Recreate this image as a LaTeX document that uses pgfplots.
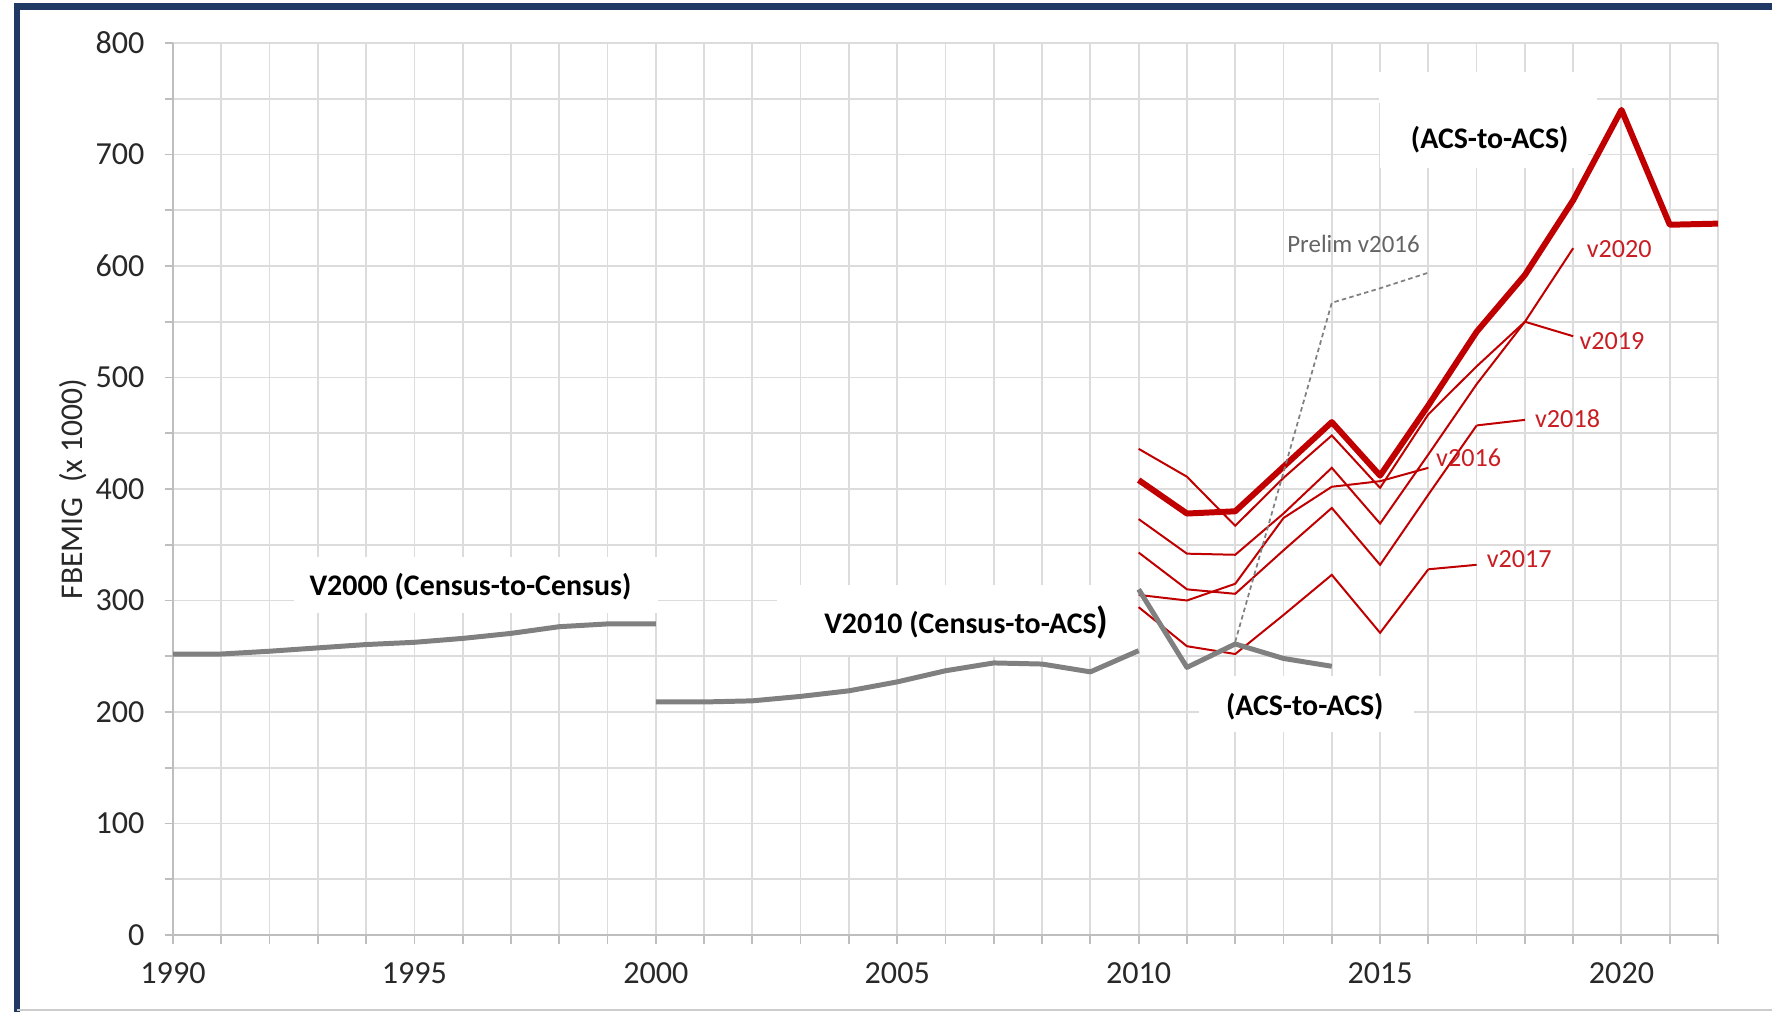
\documentclass[border=0pt]{standalone}
\usepackage{pgfplots}
\pgfplotsset{compat=1.18}
\usepackage{fontspec}
\setmainfont{Carlito}
\definecolor{navy}{RGB}{31,56,100}
\definecolor{gridc}{RGB}{220,220,220}
\definecolor{axisc}{RGB}{190,190,190}
\definecolor{grayl}{RGB}{128,128,128}
\definecolor{redl}{RGB}{192,0,0}
\definecolor{redt}{RGB}{200,30,35}
\definecolor{tickc}{RGB}{40,40,40}
\definecolor{prelimc}{RGB}{100,100,100}
\begin{document}
\begin{tikzpicture}
\path[use as bounding box] (0,0) rectangle (25cm,14.2777cm);
\begin{axis}[
  at={(2.4408cm,1.0863cm)}, anchor=south west,
  scale only axis, width=21.798cm, height=12.585cm,
  xmin=1990, xmax=2022, ymin=0, ymax=800,
  xtick={1990,1995,...,2020}, minor xtick={1990,...,2022},
  ytick={0,100,...,800}, minor ytick={0,50,...,800},
  grid=both,
  major grid style={draw=gridc, line width=0.7pt},
  minor grid style={draw=gridc, line width=0.7pt},
  axis x line*=bottom, axis y line*=left,
  axis line style={draw=axisc, line width=0.8pt},
  tick align=outside, major tick length=0.12cm, minor tick length=0.12cm,
  tick style={draw=axisc, line width=0.7pt},
  ticklabel style={font=\fontsize{12.9}{15}\selectfont, text=tickc},
  xticklabel style={yshift=-0.15cm},
  yticklabel style={xshift=-0.16cm},
  /pgf/number format/1000 sep={},
  /pgf/number format/assume math mode=true,
  ylabel={FBEMIG\ \ (x 1000)},
  ylabel style={at={(axis description cs:-0.0644,0.5)}, anchor=center,
    font=\fontsize{12.7}{15}\selectfont, text=tickc},
  clip=false,
]
% white label boxes
\fill[white] (axis cs:1992.5,289) rectangle (axis cs:2000.05,339);
\fill[white] (axis cs:2002.5,251.5) rectangle (axis cs:2009.96,313.5);
\fill[white] (axis cs:2011.25,182) rectangle (axis cs:2015.7,232);
\fill[white] (axis cs:2015.0,688) rectangle (axis cs:2019.3,746);
\fill[white] (axis cs:2014.97,746) rectangle (axis cs:2019.5,774);

% thin red vintages
\addplot[redl, line width=0.8pt] coordinates {(2010,305)(2011,300)(2012,315)(2013,374)(2014,402)(2015,407)};
\addplot[redl, line width=0.8pt] coordinates {(2010,294)(2011,259)(2012,252)(2013,287)(2014,323)(2015,271)(2016,328)};
\addplot[redl, line width=0.8pt] coordinates {(2010,343)(2011,310)(2012,306)(2013,345)(2014,383)(2015,332)(2016,395)(2017,457)};
\addplot[redl, line width=0.8pt] coordinates {(2010,436)(2011,411)(2012,367)(2013,410)(2014,448)(2015,401)(2016,467)(2017,510)(2018,550)};
\addplot[redl, line width=0.8pt] coordinates {(2010,373)(2011,342)(2012,341)(2013,378)(2014,419)(2015,369)(2016,431)(2017,494)(2018,550)(2019,616)};
% thick red
\addplot[redl, line width=2.4pt, line join=round] coordinates {(2010,408)(2011,378)(2012,380)(2013,420)(2014,460)(2015,412)(2016,475)(2017,541)(2018,592)(2019,659)(2020,740)(2021,637)(2022,638)};
% gray series
\addplot[grayl, line width=2pt, line join=round] coordinates {(1990,252)(1991,252)(1992,254.5)(1993,257.5)(1994,260.5)(1995,262.5)(1996,266)(1997,270.5)(1998,276.5)(1999,279)(2000,279)};
\addplot[grayl, line width=2pt, line join=round] coordinates {(2000,209)(2001,209)(2002,210)(2003,214)(2004,219)(2005,227)(2006,237)(2007,244)(2008,243)(2009,236)(2010,255)};
\addplot[grayl, line width=2pt, line join=round] coordinates {(2010,310)(2011,240)(2012,261)(2013,248)(2014,241)};
\addplot[grayl, line width=0.7pt, dash pattern=on 1.8pt off 1.3pt] coordinates {(2012,263)(2014,567)(2015,580)(2016,594)};

% leaders
\draw[redl, line width=0.8pt] (axis cs:2015,407) -- (axis cs:2016,419);
\draw[redl, line width=0.8pt] (axis cs:2016,328) -- (axis cs:2017,332);
\draw[redl, line width=0.8pt] (axis cs:2017,457) -- (axis cs:2018,462);
\draw[redl, line width=0.8pt] (axis cs:2018,550) -- (axis cs:2019,537);

% red labels
\node[anchor=west, inner sep=1pt, text=redt, font=\fontsize{10.5}{12}\selectfont] at (axis cs:2016.1,428) {v2016};
\node[anchor=west, inner sep=1pt, text=redt, font=\fontsize{10.5}{12}\selectfont] at (axis cs:2017.15,337) {v2017};
\node[anchor=west, inner sep=1pt, text=redt, font=\fontsize{10.5}{12}\selectfont] at (axis cs:2018.15,463) {v2018};
\node[anchor=west, inner sep=1pt, text=redt, font=\fontsize{10.5}{12}\selectfont] at (axis cs:2019.07,533) {v2019};
\node[anchor=west, inner sep=1pt, text=redt, font=\fontsize{10.5}{12}\selectfont] at (axis cs:2019.22,615) {v2020};
\node[text=prelimc, font=\fontsize{10}{12}\selectfont] at (axis cs:2014.45,620) {Prelim v2016};

% bold labels
\node[font=\bfseries\fontsize{12}{14}\selectfont] at (axis cs:1996.16,312) {V2000 (Census-to-Census)};
\node[font=\bfseries\fontsize{12}{14}\selectfont] at (axis cs:2006.43,280) {V2010 (Census-to-ACS{\fontsize{15}{15}\selectfont)}};
\node[font=\bfseries\fontsize{12}{14}\selectfont] at (axis cs:2013.44,205) {(ACS-to-ACS)};
\node[font=\bfseries\fontsize{12}{14}\selectfont] at (axis cs:2017.27,713) {(ACS-to-ACS)};
\end{axis}
% frame
\draw[navy, line width=2.6pt] (0.24cm,-1cm) -- (0.24cm,14.186cm) -- (26cm,14.186cm);
\draw[gray!40, line width=0.6pt] (0.24cm,0.03cm) -- (26cm,0.03cm);
\end{tikzpicture}
\end{document}
